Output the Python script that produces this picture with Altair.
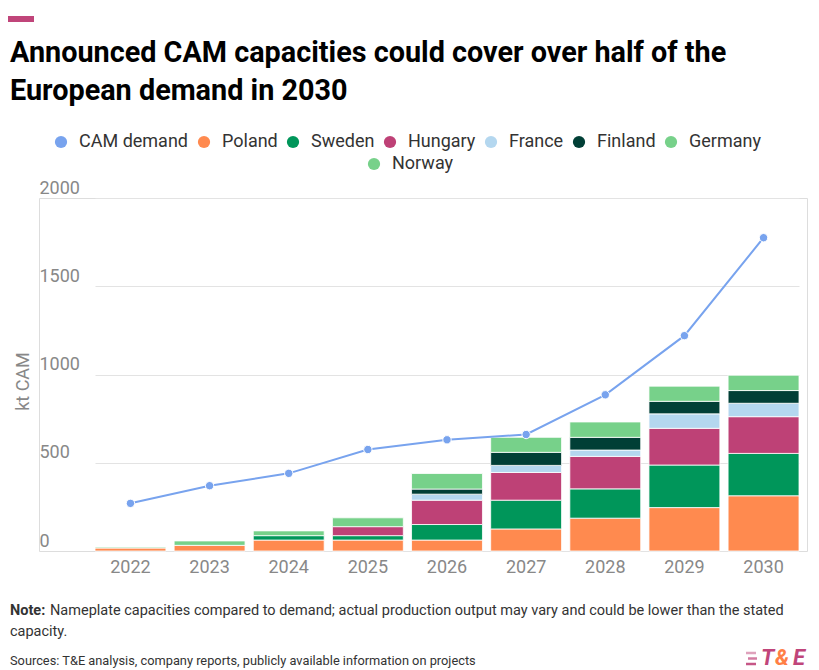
import altair as alt
import pandas as pd

years = ["2022", "2023", "2024", "2025", "2026", "2027", "2028", "2029", "2030"]
demand = [270, 370, 440, 575, 630, 660, 885, 1220, 1775]
poland = [17, 32, 62, 62, 62, 125, 186, 246, 313]
sweden = [0, 0, 25, 25, 88, 163, 166, 241, 240]
hungary = [0, 0, 0, 51, 138, 157, 184, 208, 208]
france = [0, 0, 0, 0, 34, 40, 36, 82, 76]
finland = [0, 0, 0, 0, 29, 74, 72, 71, 72]
germany = [5, 25, 27, 50, 88, 85, 87, 86, 87]
norway = [0, 0, 0, 0, 0, 0, 0, 0, 0]

countries = ["Poland", "Sweden", "Hungary", "France", "Finland", "Germany", "Norway"]
country_values = [poland, sweden, hungary, france, finland, germany, norway]
series_names = ["CAM demand"] + countries
colors = ["#78a3ee", "#ff8a4f", "#00965a", "#be4176", "#b4d7ef", "#013f36", "#77d18a", "#77d18a"]
y_ticks = [0, 500, 1000, 1500, 2000]

title_lines = ["Announced CAM capacities could cover over half of the", "European demand in 2030"]
note_label = "Note:"
note_lines = ["Nameplate capacities compared to demand; actual production output may vary and could be lower than the stated"]
note_line2 = "capacity."
source_text = "Sources: T&E analysis, company reports, publicly available information on projects"

rows = []
for ci, (name, vals) in enumerate(zip(countries, country_values)):
    for yr, v in zip(years, vals):
        rows.append({"year": yr, "country": name, "value": v, "ord": ci})
bars_df = pd.DataFrame(rows)
demand_df = pd.DataFrame({"year": years, "demand": demand})
norway_df = pd.DataFrame({"s": ["Norway"], "v": [None]})
one = pd.DataFrame({"a": [0]})

FONT = "Roboto"
GRAY = "#888888"

x_scale = alt.Scale(domain=years, range=[56, 760], paddingInner=0.104, paddingOuter=0)
y_scale = alt.Scale(domain=[0, 2000], nice=False)

x_axis = alt.Axis(title=None, domain=False, ticks=False, tickSize=0, labelPadding=7,
                  labelFontSize=18, labelColor=GRAY, labelFont=FONT, labelAngle=0, grid=False)
y_axis = alt.Axis(values=y_ticks, format="d", title="kt CAM", grid=True, gridColor="#e3e3e3", gridWidth=1,
                  domain=False, ticks=False, tickSize=0, labelAlign="left", labelBaseline="alphabetic",
                  labelPadding=0, labelOffset=-5, labelFontSize=18, labelColor=GRAY, labelFont=FONT,
                  titleFont=FONT, titleFontSize=18, titleFontWeight="normal", titleColor=GRAY,
                  titleX=-16, titleY=183, titleAngle=270, titleAlign="center", titleBaseline="middle")

legend_main = alt.Legend(title=None, orient="none", legendX=13, legendY=-65, direction="horizontal",
                         columns=7, symbolType="circle", symbolSize=150, symbolStrokeWidth=0,
                         symbolOpacity=1, labelFontSize=18, labelFont=FONT, labelColor="#333333",
                         labelOffset=9, columnPadding=6, padding=0, values=series_names[:7], labelLimit=400)
legend_norway = alt.Legend(title=None, orient="none", legendX=326, legendY=-43, direction="horizontal",
                           symbolType="circle", symbolSize=150, symbolStrokeWidth=0, symbolOpacity=1,
                           symbolFillColor="#77d18a", labelFontSize=18, labelFont=FONT,
                           labelColor="#333333", labelOffset=9, padding=0, labelLimit=400)

bars = alt.Chart(bars_df).transform_filter("datum.value > 0").mark_bar(stroke="white", strokeWidth=0.8).encode(
    x=alt.X("year:N", scale=x_scale, axis=x_axis, sort=years),
    y=alt.Y("value:Q", stack="zero", scale=y_scale, axis=y_axis),
    color=alt.Color("country:N", scale=alt.Scale(domain=series_names, range=colors), legend=legend_main),
    order=alt.Order("ord:Q", sort="ascending"),
)

line = alt.Chart(demand_df).mark_line(color="#78a3ee", strokeWidth=2).encode(
    x=alt.X("year:N", scale=x_scale, axis=x_axis, sort=years),
    y=alt.Y("demand:Q", scale=y_scale, axis=y_axis),
)
points = alt.Chart(demand_df).mark_circle(size=70, color="#78a3ee", stroke="white", strokeWidth=1, opacity=1).encode(
    x=alt.X("year:N", scale=x_scale, axis=x_axis, sort=years),
    y=alt.Y("demand:Q", scale=y_scale, axis=y_axis),
)

norway_leg = alt.Chart(norway_df).mark_point(filled=True, color="#77d18a", opacity=1).encode(
    y=alt.Y("v:Q", scale=y_scale, axis=y_axis),
    shape=alt.Shape("s:N", scale=alt.Scale(domain=["Norway"], range=["circle"]), legend=legend_norway),
)

accent = alt.Chart(one).mark_rect(color="#c0457a").encode(
    x=alt.value(-31), x2=alt.value(-5), y=alt.value(-182), y2=alt.value(-176))

title = alt.Chart(one).mark_text(align="left", baseline="alphabetic", font=FONT, fontSize=28.8,
                                  fontWeight="bold", color="#000000", lineHeight=38).encode(
    x=alt.value(-29), y=alt.value(-136), text=alt.value(title_lines))

note_b = alt.Chart(one).mark_text(align="left", baseline="alphabetic", font=FONT, fontSize=14.5,
                                   fontWeight="bold", color="#333333").encode(
    x=alt.value(-29), y=alt.value(417), text=alt.value(note_label))
note_r = alt.Chart(one).mark_text(align="left", baseline="alphabetic", font=FONT, fontSize=14.5,
                                   color="#333333").encode(
    x=alt.value(11), y=alt.value(417), text=alt.value(note_lines[0]))
note_2 = alt.Chart(one).mark_text(align="left", baseline="alphabetic", font=FONT, fontSize=14.5,
                                   color="#333333").encode(
    x=alt.value(-29), y=alt.value(438), text=alt.value(note_line2))
source = alt.Chart(one).mark_text(align="left", baseline="alphabetic", font=FONT, fontSize=12.8,
                                   color="#333333").encode(
    x=alt.value(-29), y=alt.value(467), text=alt.value(source_text))

logo_style = dict(align="left", baseline="alphabetic", font=FONT, fontSize=22,
                  fontWeight="bold", fontStyle="italic")
logo_t = alt.Chart(one).mark_text(color="#c0457a", **logo_style).encode(
    x=alt.value(722), y=alt.value(467), text=alt.value("T"))
logo_a = alt.Chart(one).mark_text(color="#ff7f45", **logo_style).encode(
    x=alt.value(736), y=alt.value(467), text=alt.value("&"))
logo_e = alt.Chart(one).mark_text(color="#c0457a", **logo_style).encode(
    x=alt.value(754), y=alt.value(467), text=alt.value("E"))
stripe1 = alt.Chart(one).mark_rule(color="#c0457a", strokeWidth=2.5, opacity=0.5).encode(
    x=alt.value(707), x2=alt.value(717), y=alt.value(455))
stripe2 = alt.Chart(one).mark_rule(color="#c0457a", strokeWidth=2.5, opacity=0.7).encode(
    x=alt.value(709), x2=alt.value(718), y=alt.value(460.5))
stripe3 = alt.Chart(one).mark_rule(color="#c0457a", strokeWidth=2.5, opacity=0.9).encode(
    x=alt.value(707), x2=alt.value(717), y=alt.value(466))

chart = alt.layer(
    bars, line, points, norway_leg, accent, title, note_b, note_r, note_2, source,
    logo_t, logo_a, logo_e, stripe1, stripe2, stripe3
).resolve_scale(color="independent", shape="independent").properties(
    width=768, height=353,
    padding={"left": 31, "top": 190, "right": 4, "bottom": 120},
    autosize=alt.AutoSizeParams(type="none"),
).configure_view(stroke=None).configure(background="white")

chart.save("out.html", embed_options={"renderer": "svg", "actions": False})
